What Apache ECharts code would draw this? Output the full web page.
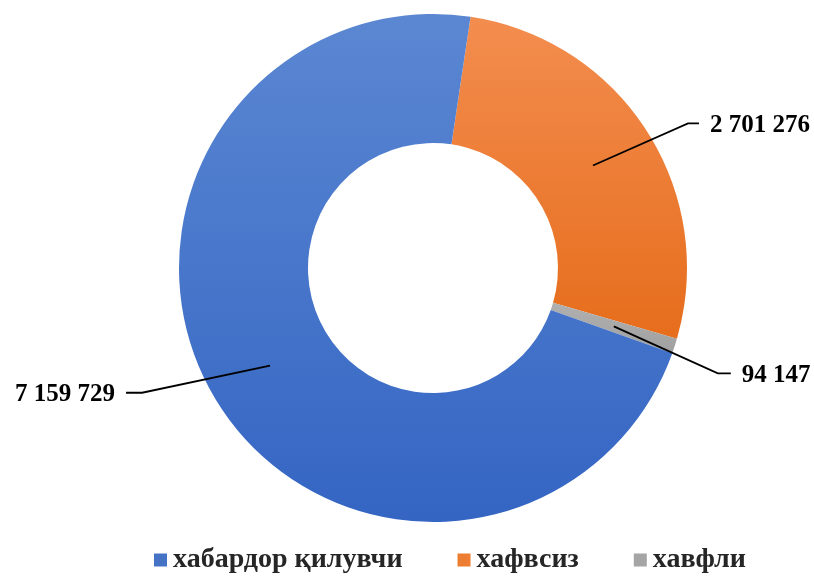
<!DOCTYPE html>
<html><head><meta charset="utf-8">
<script src="https://cdn.jsdelivr.net/npm/echarts@6/dist/echarts.min.js"></script>
<style>html,body{margin:0;padding:0;background:#fff}#c{width:814px;height:579px}</style>
</head><body><div id="c"></div>
<script>
const categories = ['хафвсиз', 'хавфли', 'хабардор қилувчи'];
const values = [2701276, 94147, 7159729];
const legendOrder = ['хабардор қилувчи', 'хафвсиз', 'хавфли'];
const valueLabels = ['2 701 276', '94 147', '7 159 729'];
const baseColors = ['#ed7d31', '#a5a5a5', '#4472c4'];
const gradients = [
  ['#f38d4f', '#e66d1c'],
  ['#b0b0b0', '#a0a0a0'],
  ['#5b87d2', '#3465c3']
];
// leader line offsets (slant dx, dy) and horizontal tail
const leader = [[95, -42, 11], [104, 47, 13], [-128, 27, -16]];

const chart = echarts.init(document.getElementById('c'));
const mainData = categories.map((n, i) => ({
  name: n, value: values[i],
  itemStyle: { color: new echarts.graphic.LinearGradient(0, 0, 0, 1, [
    { offset: 0, color: gradients[i][0] }, { offset: 1, color: gradients[i][1] }]) }
}));
const overlayData = categories.map((n, i) => ({ name: n, value: values[i] }));
const font = 'Liberation Serif, Times New Roman, serif';

chart.setOption({
  animation: false,
  legend: {
    left: 149, bottom: 0, icon: 'rect', itemWidth: 13, itemHeight: 13, itemGap: 55,
    data: legendOrder.map(n => ({ name: n, itemStyle: { color: baseColors[categories.indexOf(n)] } })),
    textStyle: { fontFamily: font, fontWeight: 'bold', fontSize: 28, color: '#262626', padding: [0, 0, 0, 1] }
  },
  series: [{
    type: 'pie', center: [433, 268], radius: [125, 254], startAngle: 81.5,
    clockwise: true, silent: true, label: { show: false }, labelLine: { show: false },
    data: mainData
  }, {
    type: 'pie', center: [433, 268], radius: [0, 190], startAngle: 81.5,
    clockwise: true, silent: true, z: 5,
    itemStyle: { color: 'rgba(0,0,0,0)' },
    label: {
      show: true, position: 'outside',
      formatter: p => valueLabels[p.dataIndex],
      fontFamily: font, fontWeight: 'bold', fontSize: 25, color: '#000'
    },
    labelLine: { show: true, length: 10, length2: 10, lineStyle: { color: '#000', width: 1.8 } },
    labelLayout: function (params) {
      const i = params.dataIndex;
      const p0 = params.labelLinePoints[0];
      const L = leader[i];
      const p1 = [p0[0] + L[0], p0[1] + L[1]];
      const p2 = [p1[0] + L[2], p1[1]];
      const right = L[2] > 0;
      return {
        x: p2[0] + (right ? 11 : -11), y: p2[1] + 2,
        align: right ? 'left' : 'right', verticalAlign: 'middle',
        labelLinePoints: [p0, p1, p2]
      };
    },
    data: overlayData
  }]
});
</script></body></html>
